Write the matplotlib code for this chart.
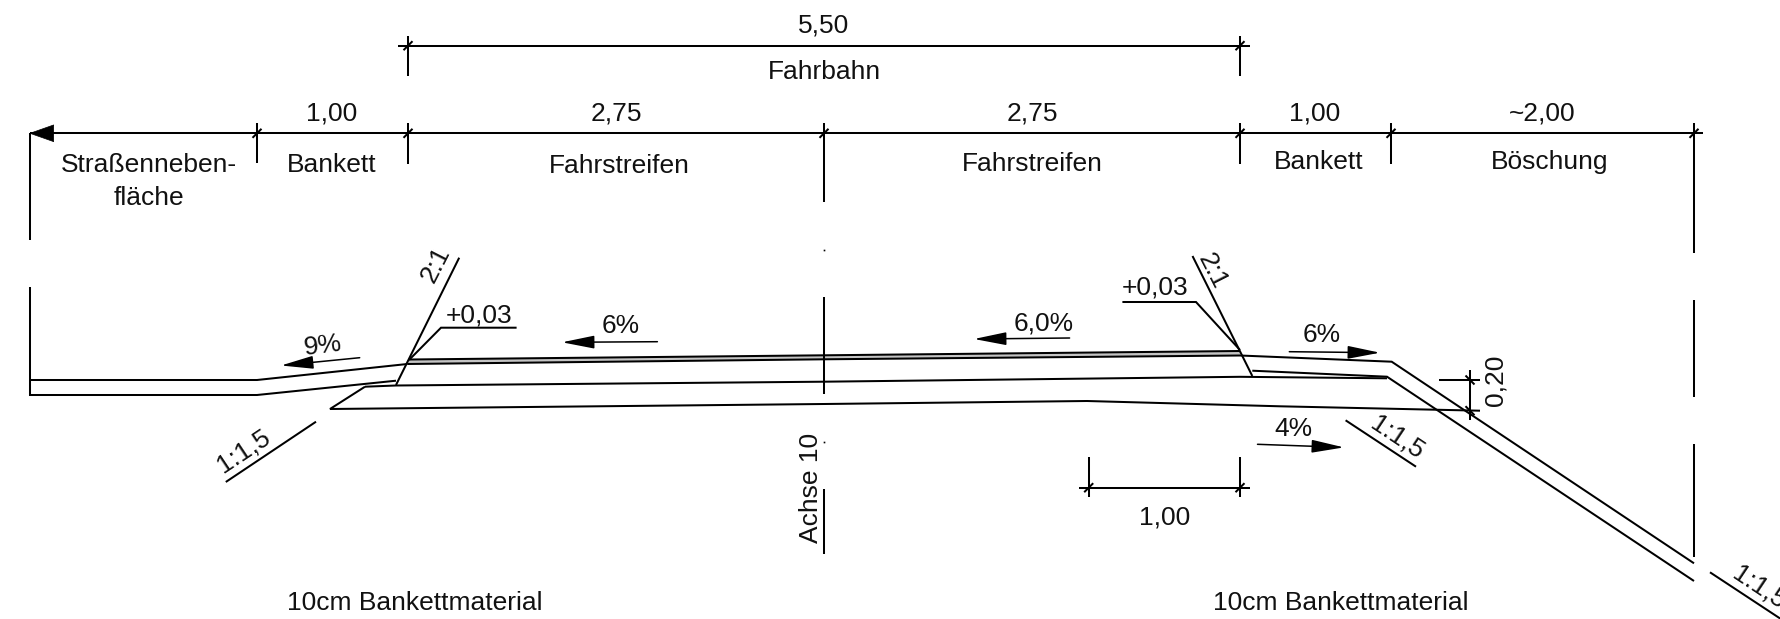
import matplotlib
matplotlib.use("Agg")
import matplotlib.pyplot as plt

plt.rcParams['font.family'] = ['Liberation Sans', 'DejaVu Sans']

# all lengths, in picture pixels (y runs downward)
W, H = 1781, 619
LW = 1.45
FS = 19
TEXT_DY = 1

# road section outlines
ground_top = [(30, 380), (257, 380), (407.3, 364)]
ground_bottom = [(30, 380), (30, 395), (257, 395), (396, 380.7)]
pavement_top = [(409.3, 359.5), (824, 355.3), (1240, 351)]
pavement_under = [(407.3, 364), (824, 359.3), (1240, 355.5), (1391.7, 361.7), (1694, 563.3)]
shoulder_right = [(1252.3, 370.7), (1387, 376.7), (1694, 581)]
base_top = [(365, 386.7), (396, 385.5), (824, 381.7), (1240, 376.8), (1387, 378.3)]
base_bottom = [(365, 386.7), (330, 409), (824, 404), (1087, 401), (1280, 406.3), (1480, 410.7)]
slope_left = [(396, 385), (459.2, 257.7)]
slope_right = [(1192.5, 256), (1252.3, 376)]
leader_left = [(409, 360), (441, 327.7), (516.6, 327.7)]
leader_right = [(1240, 350), (1196, 302), (1122.4, 302)]
slope_marks = [
    [(225.8, 482), (316, 421.7)],
    [(1345.6, 420.3), (1416, 466.7)],
    [(1710, 572.3), (1790, 625)],
]

# dimension lines: x from, x to, y
dim_lines = [(398, 1250, 45.7), (30, 1703, 133.3), (1079, 1250, 487.7)]
dim_line_v = [(1470, 370, 420)]
dim_short = [(1439, 1480, 380)]
dim_ticks = [
    (408, 45.7), (1240, 45.7),
    (257, 133.3), (408, 133.3), (824, 133.3), (1240, 133.3), (1391, 133.3), (1694, 133.3),
    (1088.7, 487.7), (1240, 487.7),
]
dim_ticks_v = [(1470, 380), (1470, 410.7)]

# extension lines: x, y from, y to
ext_lines = [
    (30, 133, 240), (30, 287, 395),
    (257, 123, 163),
    (408, 36, 76), (408, 123, 164),
    (824, 123, 202), (824, 297, 394), (824, 489, 554),
    (1240, 36, 76), (1240, 123, 164),
    (1391, 123, 164),
    (1694, 123, 253), (1694, 300, 396.7), (1694, 444, 556.7),
    (1088.7, 456.7, 497.3), (1240, 456.7, 497.3),
]
axis_dots = [(824, 249.5), (824, 441.7)]

# gradient arrows: tail, tip
arrows = [
    ((359.7, 357.7), (281, 365.5)),
    ((657.4, 341.7), (562, 342.3)),
    ((1069.6, 338), (974, 339)),
    ((1289.3, 351.7), (1380, 352.7)),
    ((1257.5, 444.3), (1344, 447.4)),
]

# text, x, y, rotation
labels = [
    ("5,50", 824, 25, 0), ("Fahrbahn", 824, 71, 0),
    ("1,00", 332, 113, 0), ("2,75", 616, 113, 0), ("2,75", 1032.5, 113, 0),
    ("1,00", 1315, 113, 0), ("~2,00", 1542.6, 113, 0),
    ("Straßenneben-", 149, 164, 0), ("fläche", 149, 197, 0),
    ("Bankett", 332, 164, 0), ("Fahrstreifen", 619, 165, 0),
    ("Fahrstreifen", 1032.5, 163, 0), ("Bankett", 1319, 161, 0), ("Böschung", 1549.5, 161, 0),
    ("2:1", 435.5, 263.7, 63), ("2:1", 1212.4, 270, -63),
    ("+0,03", 479.5, 315, 0), ("+0,03", 1155, 286, 0),
    ("9%", 323, 345, 7), ("6%", 621, 325, 0), ("6,0%", 1044, 322.7, 0),
    ("6%", 1321.5, 334, 0), ("4%", 1293, 428, 0),
    ("0,20", 1496, 379, 90), ("1,00", 1164.5, 516, 0),
    ("1:1,5", 243.8, 450, 33.7), ("1:1,5", 1397, 436.7, -33.7), ("1:1,5", 1759, 586, -33.7),
    ("Achse 10", 811, 487, 90),
    ("10cm Bankettmaterial", 415, 602, 0), ("10cm Bankettmaterial", 1341, 602, 0),
]

fig = plt.figure(figsize=(W / 100, H / 100), dpi=100)
ax = fig.add_axes([0, 0, 1, 1])
ax.set_xlim(0, W)
ax.set_ylim(H, 0)
ax.axis('off')


def poly(points, lw=LW):
    xs, ys = zip(*points)
    ax.plot(xs, ys, color='black', lw=lw, solid_capstyle='butt', solid_joinstyle='miter')


# thin grey band of the pavement
band = pavement_top + pavement_under[2::-1]
ax.fill(*zip(*band), color='#c4c4c4', lw=0)

for line in [ground_top, ground_bottom, pavement_top, pavement_under, shoulder_right,
             base_top, base_bottom, slope_left, slope_right, leader_left, leader_right]:
    poly(line)
for line in slope_marks:
    poly(line)

for x0, x1, y in dim_lines + dim_short:
    poly([(x0, y), (x1, y)])
for x, y0, y1 in dim_line_v:
    poly([(x, y0), (x, y1)])
for x, y0, y1 in ext_lines:
    poly([(x, y0), (x, y1)])
for x, y in dim_ticks:
    poly([(x - 4.5, y + 4.5), (x + 4.5, y - 4.5)])
for x, y in dim_ticks_v:
    poly([(x - 4.5, y - 4.5), (x + 4.5, y + 4.5)])
for x, y in axis_dots:
    ax.plot([x], [y], 's', color='black', ms=1.2, mew=0)

# the big arrow at the left end of the main dimension line
ax.annotate('', xy=(29, 133.3), xytext=(70, 133.3),
            arrowprops=dict(arrowstyle='-|>,head_length=17,head_width=6', mutation_scale=1,
                            color='black', lw=0.5, shrinkA=0, shrinkB=0))

for tail, tip in arrows:
    ax.annotate('', xy=tip, xytext=tail,
                arrowprops=dict(arrowstyle='-|>,head_length=20,head_width=4', mutation_scale=1,
                                color='black', lw=1.1, shrinkA=0, shrinkB=0))

for text, x, y, rot in labels:
    ax.text(x, y + TEXT_DY, text, fontsize=FS, ha='center', va='center', rotation=rot,
            rotation_mode='anchor', color='#111111')

fig.savefig('out.png', dpi=100)
